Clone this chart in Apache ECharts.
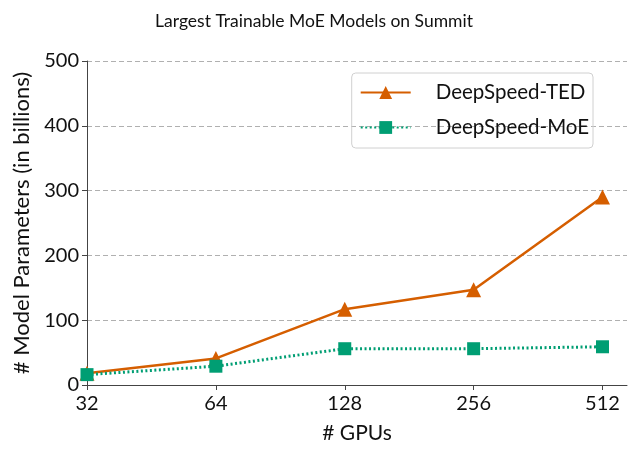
<!DOCTYPE html>
<html>
<head>
<meta charset="utf-8">
<script src="https://cdn.jsdelivr.net/npm/echarts@6/dist/echarts.min.js"></script>
<style>
  html, body { margin: 0; padding: 0; background: #fff; }
  #chart { width: 628px; height: 449px; }
</style>
</head>
<body>
<div id="chart"></div>
<script>
const gpus = ["32", "64", "128", "256", "512"];
const tedValues = [18, 41, 117, 147, 290];
const moeValues = [16, 29, 56, 56, 59];
const yTicks = [0, 100, 200, 300, 400, 500];

const font = "Lato, 'DejaVu Sans', sans-serif";
const toPoints = (vals) => vals.map((v, i) => [i, v]);

const chart = echarts.init(document.getElementById("chart"));

const option = {
  animation: false,
  title: {
    text: "Largest Trainable MoE Models on Summit",
    left: "center",
    top: 7,
    textStyle: { fontFamily: font, fontWeight: "normal", fontSize: 17.5, color: "#111" },
  },
  grid: { left: 87, right: 1, top: 61, bottom: 62 },
  legend: {
    orient: "vertical",
    right: 35,
    top: 73,
    padding: [9, 4, 10, 8],
    itemGap: 14,
    itemWidth: 50,
    itemHeight: 16,
    borderColor: "#d0d0d0",
    borderWidth: 1,
    borderRadius: 4,
    textStyle: { fontFamily: font, fontSize: 20.5, color: "#111", padding: [0, 0, 0, 20] },
    data: ["DeepSpeed-TED", "DeepSpeed-MoE"],
  },
  xAxis: {
    type: "value",
    min: 0,
    max: 4.19,
    interval: 1,
    name: "# GPUs",
    nameLocation: "middle",
    nameGap: 38,
    nameTextStyle: { fontFamily: font, fontSize: 21, color: "#111" },
    splitLine: { show: false },
    axisLine: { lineStyle: { color: "#444", width: 1 } },
    axisTick: { length: 5, lineStyle: { color: "#444" } },
    axisLabel: {
      fontFamily: font,
      fontSize: 20,
      color: "#111",
      margin: 9,
      showMaxLabel: false,
      formatter: (v) => (Number.isInteger(v) ? gpus[v] : ""),
    },
  },
  yAxis: {
    type: "value",
    min: yTicks[0],
    max: yTicks[yTicks.length - 1],
    interval: 100,
    name: "# Model Parameters (in billions)",
    nameLocation: "middle",
    nameGap: 54,
    nameTextStyle: { fontFamily: font, fontSize: 22, color: "#111" },
    axisLine: { show: true, lineStyle: { color: "#444", width: 1 } },
    axisTick: { show: true, length: 5, lineStyle: { color: "#444" } },
    axisLabel: { fontFamily: font, fontSize: 20, color: "#111", margin: 8 },
    splitLine: { lineStyle: { color: "#b0b0b0", type: [5, 3], width: 1 } },
  },
  series: [
    {
      name: "DeepSpeed-TED",
      type: "line",
      data: toPoints(tedValues),
      symbol: "triangle",
      symbolSize: 15,
      lineStyle: { color: "#d55e00", width: 2.5 },
      itemStyle: { color: "#d55e00" },
      z: 3,
    },
    {
      name: "DeepSpeed-MoE",
      type: "line",
      data: toPoints(moeValues),
      symbol: "rect",
      symbolSize: 13,
      lineStyle: { color: "#009e73", width: 3, type: [2, 2.5] },
      itemStyle: { color: "#009e73" },
      z: 4,
    },
  ],
};

chart.setOption(option);
</script>
</body>
</html>
